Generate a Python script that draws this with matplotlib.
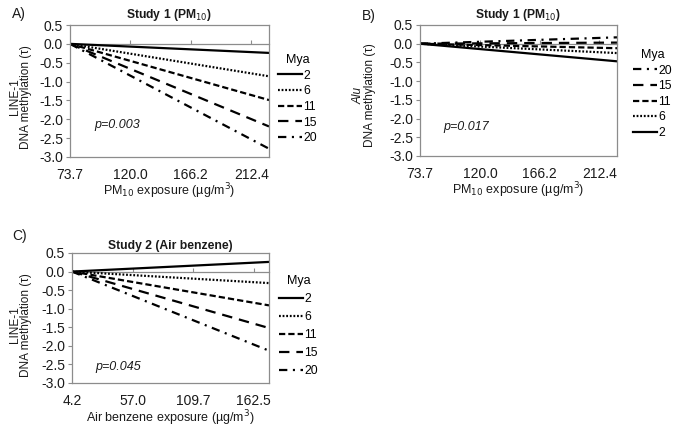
import matplotlib.pyplot as plt

plt.rcParams['font.family'] = ['Liberation Sans', 'DejaVu Sans']
plt.rcParams['axes.unicode_minus'] = False
plt.rcParams['lines.scale_dashes'] = False

# data: each line runs from 0 at the lowest exposure
pm10_x = [73.7, 226.0]
benz_x = [4.2, 176.0]
pm10_ticks = [73.7, 120.0, 166.2, 212.4]
benz_ticks = [4.2, 57.0, 109.7, 162.5]
y_ticks = [0.5, 0.0, -0.5, -1.0, -1.5, -2.0, -2.5, -3.0]
mya = ["2", "6", "11", "15", "20"]
line1_pm10 = [-0.24, -0.86, -1.49, -2.19, -2.78]
alu_pm10 = [-0.47, -0.25, -0.12, 0.03, 0.17]
line1_benz = [0.26, -0.31, -0.91, -1.52, -2.13]

GRAY = "#8c8c8c"
TXT = "#1a1a1a"
styles = {
    "2": dict(linestyle="-"),
    "6": dict(dashes=(1.3, 1.3)),
    "11": dict(dashes=(4.5, 2.2)),
    "15": dict(dashes=(7.5, 5.0)),
    "20": dict(dashes=(6.0, 4.0, 1.5, 4.0)),
}

W, H = 685, 428
fig = plt.figure(figsize=(W / 100, H / 100), dpi=100)


def px_axes(l, t, r, b):
    return fig.add_axes([l / W, 1 - b / H, (r - l) / W, (b - t) / H])


def panel(ax, xs, ends, ticks, title, xlabel, ptext, py, xlpad, tpad):
    ymin, ymax = -3.0, 0.5
    for m, e in zip(mya, ends):
        ax.plot(xs, [0, e], color="black", lw=1.6, label=m, **styles[m])
    ax.set_xlim(xs[0], xs[1])
    ax.set_ylim(ymin, ymax)
    ax.set_xticks(ticks)
    ax.set_xticklabels([f"{t:.1f}" for t in ticks])
    ax.set_yticks(y_ticks)
    ax.set_yticklabels([f"{v:.1f}" for v in y_ticks])
    ax.tick_params(axis="x", length=0, pad=8, labelsize=10, colors=TXT)
    ax.tick_params(axis="y", length=3, color=GRAY, pad=2, labelsize=10, labelcolor=TXT)
    for s in ax.spines.values():
        s.set_color(GRAY)
        s.set_linewidth(0.9)
    # category axis crossing at zero
    loc = (0 - ymin) / (ymax - ymin)
    sec = ax.secondary_xaxis(loc)
    sec.set_xticks(ticks[1:])
    sec.tick_params(labeltop=False, labelbottom=False, length=3, color=GRAY, direction="out")
    for s in sec.spines.values():
        s.set_color(GRAY)
        s.set_linewidth(0.9)
    ax.set_title(title, fontsize=8.7, fontweight="bold", color=TXT, pad=tpad)
    ax.set_xlabel(xlabel, fontsize=9, color=TXT, labelpad=xlpad)
    ax.text(0.12, py, ptext, transform=ax.transAxes, fontsize=9,
            style="italic", color=TXT)
    return ax.get_legend_handles_labels()


def add_legend(h, lab, x, y, spacing):
    fig.legend(h, lab, title="Mya", loc="upper left", bbox_to_anchor=(x / W, 1 - y / H),
               frameon=False, fontsize=8.7, title_fontsize=9, handlelength=1.95,
               handletextpad=0.15, labelspacing=spacing, borderpad=0,
               borderaxespad=0, alignment="center")


def ylab(x, y, first, italic):
    fig.text(x / W, 1 - y / H, first, rotation=90, ha="center", va="center",
             fontsize=8.5, color=TXT, style="italic" if italic else "normal")
    fig.text((x + 11) / W, 1 - y / H, "DNA methylation (τ)", rotation=90,
             ha="center", va="center", fontsize=8.5, color=TXT)


axA = px_axes(70, 25, 269, 157)
h, lab = panel(axA, pm10_x, line1_pm10, pm10_ticks, "Study 1 (PM$_{10}$)",
               "PM$_{10}$ exposure (µg/m$^3$)", "p=0.003", 0.22, -0.5, 5)
add_legend(h, lab, 278, 54, 0.3)
ylab(15, 97, "LINE-1", False)
fig.text(12 / W, 1 - 14 / H, "A)", ha="left", va="center", fontsize=10, color=TXT)

axB = px_axes(420, 25, 617, 156)
h, lab = panel(axB, pm10_x, alu_pm10, pm10_ticks, "Study 1 (PM$_{10}$)",
               "PM$_{10}$ exposure (µg/m$^3$)", "p=0.017", 0.2, -0.5, 5)
add_legend(h[::-1], lab[::-1], 633, 49, 0.3)
ylab(359, 95, "Alu", True)
fig.text(362 / W, 1 - 16 / H, "B)", ha="left", va="center", fontsize=10, color=TXT)

axC = px_axes(72, 253, 269, 383)
h, lab = panel(axC, benz_x, line1_benz, benz_ticks, "Study 2 (Air benzene)",
               "Air benzene exposure (µg/m$^3$)", "p=0.045", 0.1, 0.0, 3)
add_legend(h, lab, 279, 275, 0.5)
ylab(15, 325, "LINE-1", False)
fig.text(12 / W, 1 - 236 / H, "C)", ha="left", va="center", fontsize=10, color=TXT)

fig.savefig("out.png", dpi=100)
